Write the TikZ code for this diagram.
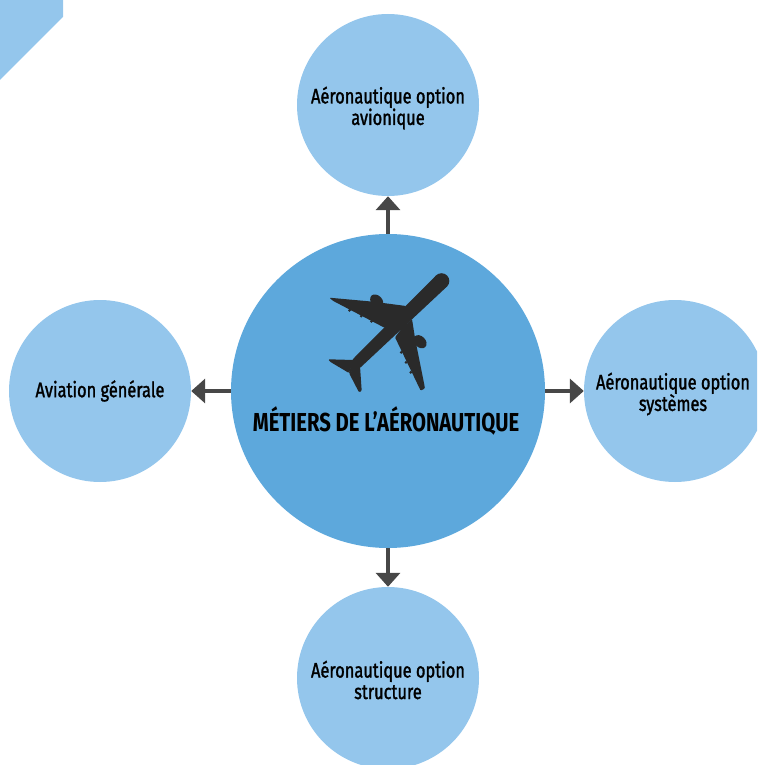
\documentclass[tikz,border=0pt]{standalone}
\usepackage{fontspec}
\setmainfont{Fira Sans}[FakeStretch=0.78]
\newfontfamily\labfont{Fira Sans}[FakeStretch=0.78, FakeBold=1.4]
\newfontfamily\titlefont{Fira Sans}[FakeStretch=0.78, UprightFont=*, BoldFont=* Bold]
\usetikzlibrary{arrows.meta}
\definecolor{light}{HTML}{94C6EC}
\definecolor{mainblue}{HTML}{5DA8DC}
\definecolor{arrgray}{HTML}{474747}
\definecolor{planec}{HTML}{2A2A2A}
\tikzset{
  outer/.style={circle, fill=light, minimum size=182pt, inner sep=0pt},
  labtext/.style={align=center, inner sep=0pt, font=\labfont\fontsize{21}{21.5}\selectfont, text=black},
  arr/.style={draw=arrgray, line width=4pt, -{Triangle[length=14pt,width=24pt]}}
}
\begin{document}
\begin{tikzpicture}[x=1pt,y=-1pt]
\useasboundingbox (0,0) rectangle (757,765);
\clip (0,0) rectangle (757,765);
\fill[light] (0,0) -- (63,0) -- (63,17) -- (0,80) -- cycle;
\node[circle, fill=mainblue, minimum size=314pt, inner sep=0pt] (main) at (388,391) {};
\node[outer] (top) at (388,105) {};
\node[outer] (left) at (100,391) {};
\node[outer] (right) at (675,391) {};
\node[outer] (bottom) at (388,678) {};
\node[labtext] (toplab) at (388,108) {Aéronautique option\\avionique};
\node[labtext] (leftlab) at (100,391) {Aviation générale};
\node[labtext] (rightlab) at (673,394) {Aéronautique option\\systèmes};
\node[labtext] (bottomlab) at (388,680) {Aéronautique option\\structure};
\node[font=\titlefont\bfseries\fontsize{26}{27}\selectfont, text=black] (title) at (386,421) {MÉTIERS DE L’AÉRONAUTIQUE};
\draw[arr] (main) -- (top);
\draw[arr] (main) -- (left);
\draw[arr] (main) -- (right);
\draw[arr] (main) -- (bottom);
% airplane
\begin{scope}[planec]
\fill (441.5,281) circle[radius=7.8pt];
\fill (436,275.5) -- (447,286.5) -- (361,367) -- (349,373) -- (353,359) -- cycle;
\fill[rounded corners=1pt] (406,306) -- (373.3,301.7) -- (329.3,297.7) -- (333.3,301) -- (385,328) -- (394,322) -- cycle;
\fill[rounded corners=1pt] (412,319) -- (415,338) -- (425,388.3) -- (420.7,390.7) -- (395,337.3) -- (402,328) -- cycle;
\fill[rounded corners=1pt] (354,360) -- (328.3,359.3) -- (330,361.7) -- (349,373) -- cycle;
\fill[rounded corners=1pt] (360,366) -- (361.7,391) -- (359,392.3) -- (349,373) -- cycle;
\fill[rotate around={-45:(376.7,301)}] (376.7,301) ellipse[x radius=7.5pt, y radius=5.5pt];
\fill[rotate around={-45:(420,341.7)}] (420,341.7) ellipse[x radius=7.5pt, y radius=5.5pt];
\foreach \p in {(349.5,310.3),(361.2,316.1),(371.5,321.3),(401.2,352.4),(406,362.4),(410.8,372.4)}
  \fill \p circle[radius=1.5pt];
\end{scope}
\end{tikzpicture}
\end{document}
